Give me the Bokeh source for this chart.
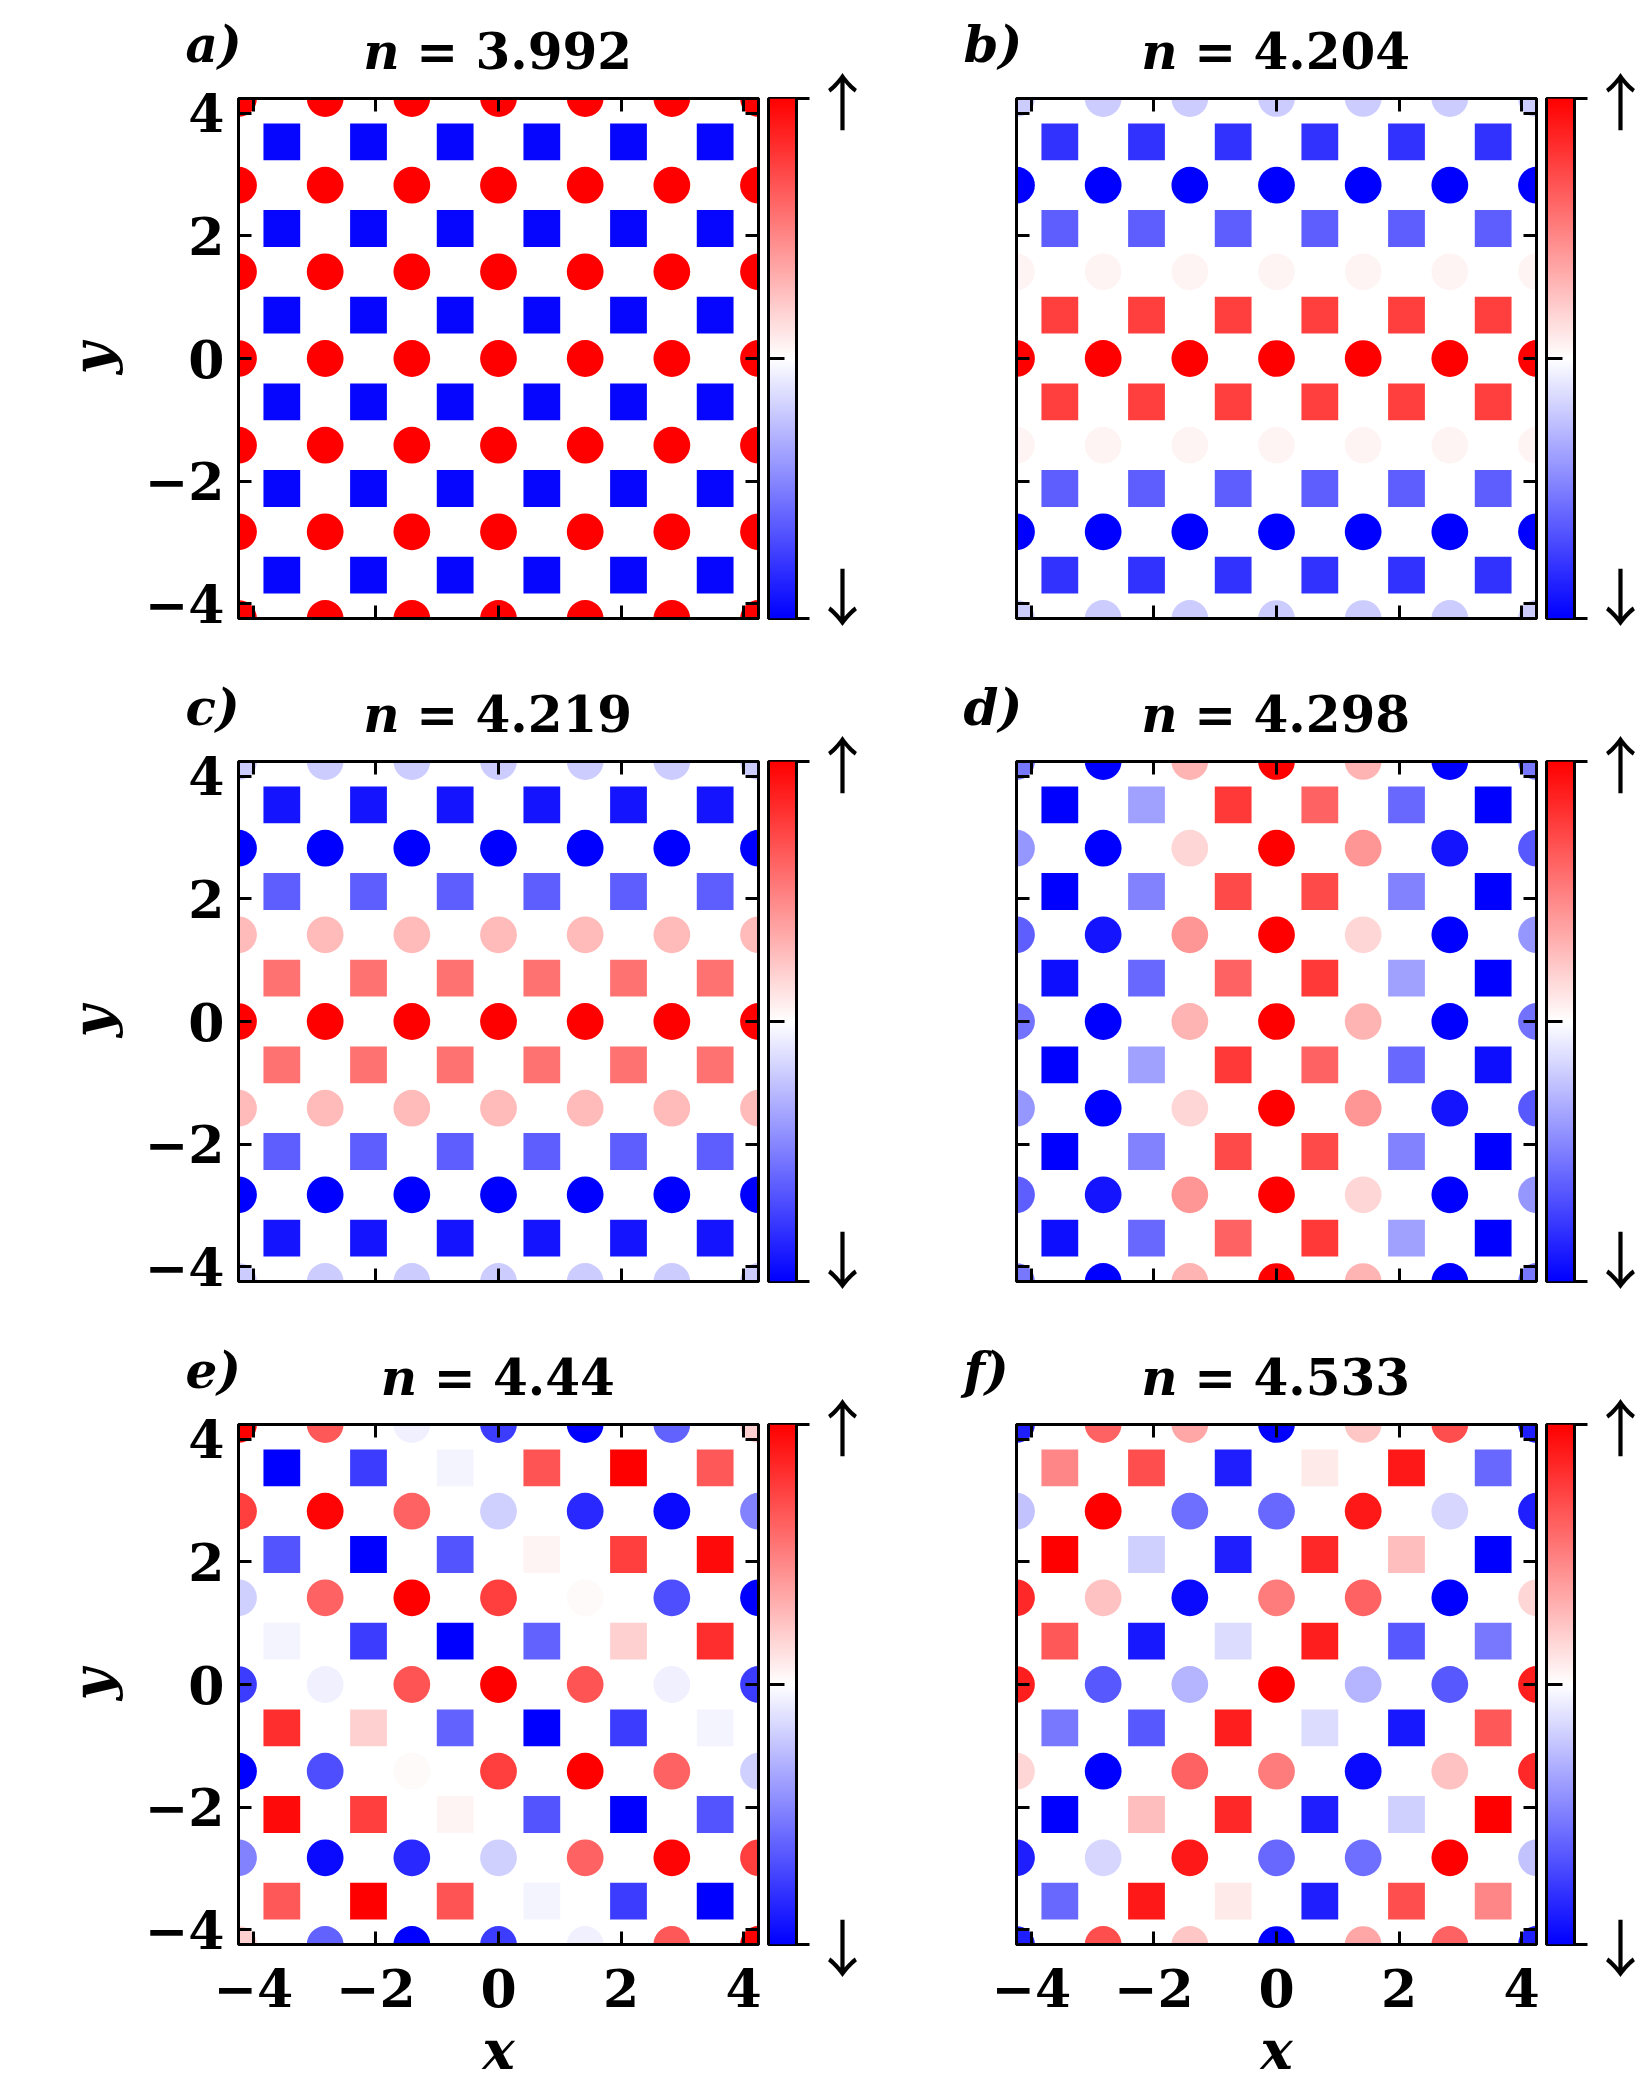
import numpy as np
from bokeh.plotting import figure
from bokeh.models import LinearColorMapper, FixedTicker, LinearAxis, Range1d, ColumnDataSource
from bokeh.layouts import row, column
from bokeh.embed import file_html
from bokeh.resources import INLINE
from bokeh.core.properties import value

# ---------------- data ----------------
panel_letters = ["a)", "b)", "c)", "d)", "e)", "f)"]
fillings = ["3.992", "4.204", "4.219", "4.298", "4.44", "4.533"]
lattice_spacing = 1.414
circle_idx = [-3, -2, -1, 0, 1, 2, 3]          # circle sites at i*a
square_idx = [-2.5, -1.5, -0.5, 0.5, 1.5, 2.5]  # square sites at (i+1/2)*a
ticks = [-4, -2, 0, 2, 4]
tick_labels = {-4: "−4", -2: "−2", 0: "0", 2: "2", 4: "4"}
cbar_ticks = {-1: "↓", 1: "↑"}

# rows listed from top (y>0) to bottom; values on the blue(-1) - white(0) - red(+1) scale
# panels a-c: every site in a row has the same value
a_circle_rows = [1.0, 1.0, 1.0, 1.0, 1.0, 1.0, 1.0]
a_square_rows = [-0.97, -0.97, -0.97, -0.97, -0.97, -0.97]
b_circle_rows = [-0.2, -1.0, 0.04, 1.0, 0.04, -1.0, -0.2]
b_square_rows = [-0.8, -0.63, 0.75, 0.75, -0.63, -0.8]
c_circle_rows = [-0.2, -1.0, 0.27, 1.0, 0.27, -1.0, -0.2]
c_square_rows = [-0.92, -0.63, 0.55, 0.55, -0.63, -0.92]

# panels d-f: full grids (rows top->bottom, columns left->right)
d_circles = [
    [-0.53, -1.0, 0.29, 1.0, 0.29, -1.0, -0.53],
    [-0.41, -1.0, 0.16, 1.0, 0.41, -0.92, -0.65],
    [-0.63, -0.92, 0.41, 1.0, 0.16, -1.0, -0.41],
    [-0.55, -1.0, 0.29, 1.0, 0.29, -1.0, -0.55],
    [-0.41, -1.0, 0.16, 1.0, 0.41, -0.92, -0.65],
    [-0.63, -0.92, 0.41, 1.0, 0.16, -1.0, -0.41],
    [-0.53, -1.0, 0.29, 1.0, 0.29, -1.0, -0.53],
]
d_squares = [
    [-1.0, -0.37, 0.78, 0.61, -0.59, -1.0],
    [-1.0, -0.49, 0.71, 0.71, -0.49, -1.0],
    [-0.94, -0.59, 0.61, 0.78, -0.37, -1.0],
    [-1.0, -0.37, 0.78, 0.61, -0.59, -0.94],
    [-1.0, -0.49, 0.71, 0.71, -0.49, -1.0],
    [-0.94, -0.59, 0.61, 0.78, -0.37, -1.0],
]
e_circles = [
    [1.0, 0.65, -0.06, -0.76, -1.0, -0.61, 0.18],
    [0.75, 0.98, 0.61, -0.18, -0.84, -0.96, -0.49],
    [-0.18, 0.61, 1.0, 0.75, 0.02, -0.69, -1.0],
    [-0.76, -0.06, 0.67, 1.0, 0.67, -0.06, -0.76],
    [-1.0, -0.69, 0.02, 0.75, 1.0, 0.61, -0.18],
    [-0.49, -0.96, -0.84, -0.18, 0.61, 0.98, 0.75],
    [0.18, -0.61, -1.0, -0.76, -0.06, 0.65, 1.0],
]
e_squares = [
    [-1.0, -0.76, -0.04, 0.67, 1.0, 0.65],
    [-0.67, -1.0, -0.67, 0.04, 0.75, 0.96],
    [-0.04, -0.76, -1.0, -0.61, 0.18, 0.82],
    [0.82, 0.18, -0.61, -1.0, -0.76, -0.04],
    [0.96, 0.75, 0.04, -0.67, -1.0, -0.67],
    [0.65, 1.0, 0.67, -0.04, -0.76, -1.0],
]
f_circles = [
    [-0.88, 0.61, 0.35, -1.0, 0.22, 0.69, -0.88],
    [-0.24, 1.0, -0.57, -0.59, 0.9, -0.16, -0.88],
    [0.84, 0.24, -0.96, 0.51, 0.61, -1.0, 0.16],
    [0.88, -0.65, -0.29, 1.0, -0.29, -0.65, 0.88],
    [0.16, -1.0, 0.61, 0.51, -0.96, 0.24, 0.84],
    [-0.88, -0.16, 0.9, -0.59, -0.57, 1.0, -0.24],
    [-0.88, 0.69, 0.22, -1.0, 0.35, 0.61, -0.88],
]
f_squares = [
    [0.47, 0.69, -0.88, 0.08, 0.9, -0.59],
    [1.0, -0.18, -0.88, 0.84, 0.25, -1.0],
    [0.65, -0.9, -0.14, 0.88, -0.65, -0.53],
    [-0.53, -0.65, 0.88, -0.14, -0.9, 0.65],
    [-1.0, 0.25, 0.84, -0.88, -0.18, 1.0],
    [-0.59, 0.9, 0.08, -0.88, 0.69, 0.47],
]


def expand(rows, n):
    return [[v] * n for v in rows]


panel_circles = [expand(a_circle_rows, 7), expand(b_circle_rows, 7), expand(c_circle_rows, 7),
                 d_circles, e_circles, f_circles]
panel_squares = [expand(a_square_rows, 6), expand(b_square_rows, 6), expand(c_square_rows, 6),
                 d_squares, e_squares, f_squares]

# ---------------- styling ----------------
SERIF = "DejaVu Serif"
TICK_FS = "52px"
TITLE_PX = 50
LBL_FS = "54px"
ARROW_FONT = "Noto Sans CJK JP"
FRAME = 520
PANEL_TOP = 16             # panel figure border above the frame
TITLE_Y = 47 - PANEL_TOP   # text-glyph y (header coords) for "n = ..."
LETTER_Y = 54 - PANEL_TOP  # text-glyph y (header coords) for "a)" etc.


def bwr(t):
    if t < 0.5:
        s = t / 0.5
        return "#%02x%02xff" % (int(round(255 * s)), int(round(255 * s)))
    s = (t - 0.5) / 0.5
    g = int(round(255 * (1 - s)))
    return "#ff%02x%02x" % (g, g)


palette = [bwr(i / 255) for i in range(256)]
mapper = LinearColorMapper(palette=palette, low=-1, high=1)

CHAR_W = {"0": 0.696, "1": 0.696, "2": 0.696, "3": 0.696, "4": 0.696, "5": 0.696,
          "6": 0.696, "7": 0.696, "8": 0.696, "9": 0.696, ".": 0.38, "=": 0.838, " ": 0.348}


def text_w(s, size):
    return sum(CHAR_W.get(ch, 0.7) for ch in s) * size


def site_source(grid, idx):
    xs, ys, vs = [], [], []
    for r, rowvals in enumerate(grid):
        yv = idx[len(idx) - 1 - r] * lattice_spacing
        for c, v in enumerate(rowvals):
            xs.append(idx[c] * lattice_spacing)
            ys.append(yv)
            vs.append(v)
    return ColumnDataSource(dict(x=xs, y=ys, v=vs))


def style_axis(ax, ticks_list, overrides, show_labels, tick_in):
    ax.ticker = FixedTicker(ticks=ticks_list)
    ax.major_tick_in = tick_in
    ax.major_tick_out = 0
    ax.major_tick_line_width = 3
    ax.major_tick_line_color = "black"
    ax.minor_tick_line_color = None
    ax.axis_line_width = 3
    ax.axis_line_color = "black"
    ax.major_label_overrides = overrides
    ax.major_label_text_font = SERIF
    ax.major_label_text_font_style = "bold"
    ax.major_label_text_color = "black"
    if show_labels:
        ax.major_label_text_font_size = TICK_FS
    else:
        ax.major_label_text_font_size = "1px"
        ax.major_label_text_color = None
        ax.major_label_standoff = 0


COL_LEFT = [238, 110]          # frame left inside each panel figure
COL_W = [238 + FRAME + 8, 110 + FRAME + 8]
CBAR_RIGHT = [110, 66]


def make_header(k, width, height, fl):
    h = figure(width=width, height=height, x_range=Range1d(0, width), y_range=Range1d(0, height),
               output_backend="svg", toolbar_location=None, min_border=0,
               x_axis_location=None, y_axis_location=None,
               outline_line_color=None, background_fill_color="white", border_fill_color="white")
    h.grid.visible = False
    h.text(x=[fl - 53], y=[LETTER_Y], text=[panel_letters[k]],
           text_font=value(SERIF), text_font_style="bold italic", text_font_size=value("50px"),
           text_color="black", text_baseline="alphabetic", text_align="left")
    rest = "= " + fillings[k]
    w_n = 0.712 * TITLE_PX
    total = w_n + text_w(" ", TITLE_PX) + text_w(rest, TITLE_PX)
    x0 = fl + FRAME / 2 - total / 2
    h.text(x=[x0], y=[TITLE_Y], text=["n"],
           text_font=value(SERIF), text_font_style="bold italic", text_font_size=value("%dpx" % TITLE_PX),
           text_color="black", text_baseline="alphabetic", text_align="left")
    h.text(x=[x0 + w_n + text_w(" ", TITLE_PX)], y=[TITLE_Y], text=[rest],
           text_font=value(SERIF), text_font_style="bold", text_font_size=value("%dpx" % TITLE_PX),
           text_color="black", text_baseline="alphabetic", text_align="left")
    return h


def make_panel(k, show_x, show_y, top_b, bottom_b, left_b):
    half = 3 * lattice_spacing
    p = figure(frame_width=FRAME, frame_height=FRAME,
               x_range=Range1d(-half, half), y_range=Range1d(-half, half),
               output_backend="svg", toolbar_location=None,
               min_border_left=left_b, min_border_right=8,
               min_border_top=top_b, min_border_bottom=bottom_b,
               background_fill_color="white", border_fill_color="white",
               outline_line_color="black", outline_line_width=3)
    p.grid.visible = False
    p.add_layout(LinearAxis(), "above")
    p.add_layout(LinearAxis(), "right")
    style_axis(p.below[0], ticks, tick_labels, show_x, 13)
    style_axis(p.left[0], ticks, tick_labels, show_y, 13)
    style_axis(p.above[0], ticks, tick_labels, False, 13)
    style_axis(p.right[0], ticks, tick_labels, False, 13)
    if show_x:
        ax = p.below[0]
        ax.major_label_standoff = 24
        ax.axis_label = "x"
        ax.axis_label_text_font = SERIF
        ax.axis_label_text_font_style = "bold italic"
        ax.axis_label_text_font_size = LBL_FS
        ax.axis_label_text_color = "black"
        ax.axis_label_standoff = 8
    if show_y:
        ax = p.left[0]
        ax.major_label_standoff = 14
        ax.axis_label = "y"
        ax.axis_label_text_font = SERIF
        ax.axis_label_text_font_style = "bold italic"
        ax.axis_label_text_font_size = LBL_FS
        ax.axis_label_text_color = "black"
        ax.axis_label_standoff = 18

    fill = {"field": "v", "transform": mapper}
    p.rect(x="x", y="y", width=0.6, height=0.6, source=site_source(panel_squares[k], square_idx),
           fill_color=fill, line_color=None)
    p.circle(x="x", y="y", radius=0.3, source=site_source(panel_circles[k], circle_idx),
             fill_color=fill, line_color=None)
    return p


grad = np.linspace(-1, 1, 256).reshape(-1, 1)


def make_cbar(top_b, bottom_b, right_b):
    c = figure(frame_width=28, frame_height=FRAME, x_range=Range1d(0, 1), y_range=Range1d(-1, 1),
               x_axis_location=None, y_axis_location="right",
               output_backend="svg", toolbar_location=None,
               min_border_left=2, min_border_right=right_b,
               min_border_top=top_b, min_border_bottom=bottom_b,
               background_fill_color="white", border_fill_color="white",
               outline_line_color="black", outline_line_width=3)
    c.grid.visible = False
    c.image(image=[grad], x=0, y=-1, dw=1, dh=2, color_mapper=mapper)
    ax = c.right[0]
    ax.ticker = FixedTicker(ticks=list(cbar_ticks.keys()))
    ax.major_label_overrides = cbar_ticks
    ax.major_tick_in = 0
    ax.major_tick_out = 13
    ax.major_tick_line_width = 3
    ax.minor_tick_line_color = None
    ax.axis_line_width = 3
    ax.major_label_text_font = ARROW_FONT
    ax.major_label_text_font_size = "62px"
    ax.major_label_text_color = "black"
    ax.major_label_standoff = 2
    left = LinearAxis(ticker=FixedTicker(ticks=[0]), major_tick_in=16, major_tick_out=0,
                      major_tick_line_width=3, minor_tick_line_color=None, axis_line_width=3,
                      major_label_text_font_size="1px", major_label_text_color=None,
                      major_label_standoff=0)
    c.add_layout(left, "left")
    return c


above_frame = [98, 123, 123]      # space from band top to frame top
bottom_borders = [20, 20, 150]

bands = []
for r in range(3):
    af = above_frame[r]
    bb = bottom_borders[r]
    show_x = (r == 2)
    items = []
    for c in range(2):
        k = 2 * r + c
        hdr = make_header(k, COL_W[c], af - PANEL_TOP, COL_LEFT[c])
        pan = make_panel(k, show_x, c == 0, PANEL_TOP, bb, COL_LEFT[c])
        cb = make_cbar(af, bb, CBAR_RIGHT[c])
        items += [column(hdr, row(pan)), cb]
    bands.append(row(*items))

layout = column(*bands)
open("out.html", "w").write(file_html(layout, INLINE))
